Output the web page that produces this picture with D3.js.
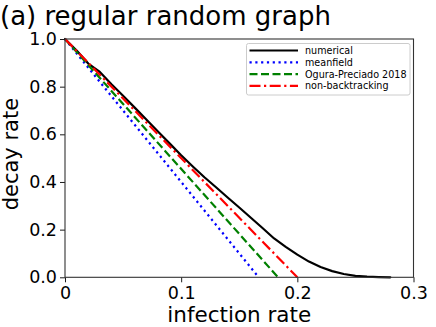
<!DOCTYPE html>
<html><head><meta charset="utf-8">
<script src="https://cdn.jsdelivr.net/npm/d3@7"></script>
<style>body{margin:0;background:#fff}svg{display:block;font-family:"DejaVu Sans",sans-serif}</style>
</head><body>
<script>
const xTicks = [0, 0.1, 0.2, 0.3];
const xTickLabels = ["0", "0.1", "0.2", "0.3"];
const yTicks = [0, 0.2, 0.4, 0.6, 0.8, 1.0];
const yTickLabels = ["0.0", "0.2", "0.4", "0.6", "0.8", "1.0"];
const numericalX = [0,0.01,0.02,0.03,0.04,0.05,0.06,0.07,0.08,0.09,0.10,0.11,0.12,0.13,0.14,0.15,0.16,0.17,0.18,0.19,0.20,0.21,0.22,0.23,0.24,0.25,0.26,0.27,0.28];
const numericalY = [1.0,0.952,0.897,0.862,0.81,0.762,0.712,0.662,0.612,0.562,0.512,0.465,0.42,0.378,0.335,0.293,0.25,0.207,0.163,0.128,0.095,0.066,0.043,0.026,0.014,0.006,0.0025,0.001,0.0];
const meanfieldX = [0, 0.1667];
const meanfieldY = [1.0, 0.0];
const oguraX = [0, 0.1834];
const oguraY = [1.0, 0.0];
const nbX = [0, 0.2];
const nbY = [1.0, 0.0];
const seriesNames = ["numerical", "meanfield", "Ogura-Preciado 2018", "non-backtracking"];

const W = 436, H = 327;
const m = {left: 65, right: 436-413.5, top: 39, bottom: 327-277.3};
const svg = d3.select("body").append("svg").attr("width", W).attr("height", H);
const x = d3.scaleLinear().domain([0, 0.3]).range([m.left, W - m.right]);
const y = d3.scaleLinear().domain([0, 1]).range([H - m.bottom, m.top]);

const series = [
  {xs: numericalX, ys: numericalY, color: "#000000", dash: null, w: 2.2},
  {xs: meanfieldX, ys: meanfieldY, color: "#0000ff", dash: "2.2,3.6", w: 2.2},
  {xs: oguraX, ys: oguraY, color: "#008000", dash: "8,3.5", w: 2.2},
  {xs: nbX, ys: nbY, color: "#ff0000", dash: "11,3.5,2.2,3.5", w: 2.2}
];
const line = d3.line().x(d => x(d[0])).y(d => y(d[1]));
const g = svg.append("g");
series.forEach(s => {
  g.append("path")
    .datum(s.xs.map((v, i) => [v, s.ys[i]]))
    .attr("d", line)
    .attr("fill", "none")
    .attr("stroke", s.color)
    .attr("stroke-width", s.w)
    .attr("stroke-dasharray", s.dash)
    .attr("stroke-linejoin", "round")
    .attr("stroke-linecap", s.dash ? "butt" : "round");
});

// axes
const xAxis = d3.axisBottom(x).tickValues(xTicks).tickFormat((d, i) => xTickLabels[i]).tickSize(5).tickSizeOuter(0);
const yAxis = d3.axisLeft(y).tickValues(yTicks).tickFormat((d, i) => yTickLabels[i]).tickSize(5).tickSizeOuter(0);
const gx = svg.append("g").attr("transform", `translate(0,${H - m.bottom})`).call(xAxis);
const gy = svg.append("g").attr("transform", `translate(${m.left},0)`).call(yAxis);
[gx, gy].forEach(a => {
  a.select(".domain").remove();
  a.selectAll("text").attr("font-size", 17.5).attr("fill", "#000").attr("font-family", "DejaVu Sans");
  a.selectAll("line").attr("stroke", "#000").attr("stroke-width", 0.9);
});
gx.selectAll("text").attr("dy", "0.76em");

// frame
svg.append("rect").attr("x", m.left).attr("y", m.top)
  .attr("width", W - m.right - m.left).attr("height", H - m.bottom - m.top)
  .attr("fill", "none").attr("stroke", "#333").attr("stroke-width", 1.1);

// titles
svg.append("text").attr("x", 0).attr("y", 25).attr("font-size", 26).text("(a) regular random graph");
svg.append("text").attr("x", (m.left + W - m.right) / 2).attr("y", 322).attr("text-anchor", "middle").attr("font-size", 21.5).text("infection rate");
svg.append("text").attr("transform", `translate(18,${(m.top + H - m.bottom) / 2 - 4}) rotate(-90)`).attr("text-anchor", "middle").attr("font-size", 21).text("decay rate");

// legend
const lg = svg.append("g");
lg.append("rect").attr("x", 246.5).attr("y", 43.5).attr("width", 163.5).attr("height", 51.5)
  .attr("rx", 2).attr("fill", "#fff").attr("stroke", "#ccc").attr("stroke-width", 1);
seriesNames.forEach((name, i) => {
  const s = series[i];
  const yy = 50.5 + i * 11.8;
  lg.append("line").attr("x1", 249.5).attr("x2", 298).attr("y1", yy).attr("y2", yy)
    .attr("stroke", s.color).attr("stroke-width", s.w).attr("stroke-dasharray", s.dash);
  lg.append("text").attr("x", 305).attr("y", yy + 3.5).attr("font-size", 9.6).text(name);
});
</script>
</body></html>
